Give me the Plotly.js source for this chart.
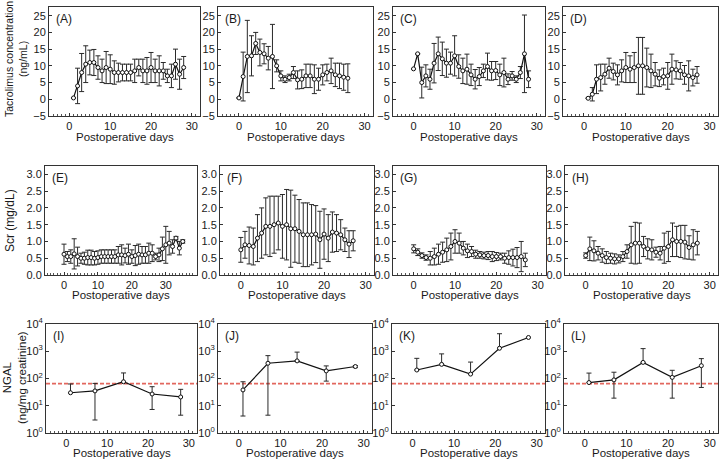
<!DOCTYPE html>
<html>
<head>
<meta charset="utf-8">
<script src="https://cdn.plot.ly/plotly-3.0.1.min.js"></script>
<style>
html, body { margin: 0; padding: 0; background: #fff; }
#myDiv { width: 721px; height: 460px; }
</style>
</head>
<body>
<div id="myDiv"></div>
<script>
// Tacrolimus concentration (ng/mL), mean and SD per postoperative day
var aDays = [1,2,3,4,5,6,7,8,9,10,11,12,13,14,15,16,17,18,19,20,21,22,23,24,25,26,27,28];
var aMean = [0.4,4,8,10.5,11,11,9.5,8.5,9.5,9,8,8,8,8,8,8.5,9.5,8.5,8.5,9.5,8.5,8.5,8.5,7,7,10.5,7.5,9.5];
var aSd = [null,5.3,5.7,5.5,3.7,3.9,3.5,3.5,4.8,4.3,3.5,2.8,2.5,2.5,2.5,3.5,2.5,3.5,4,4.5,3.5,4.5,2.5,2,3.5,4.5,4.5,3.3];

var bDays = [0,1,2,3,4,5,6,7,8,9,10,11,12,13,14,15,16,17,18,19,20,21,22,23,24,25,26];
var bMean = [0.4,6.8,12.8,13,16.7,14,13.6,12.3,12.8,10,7,6,6.5,8,5.8,6,7,7,6,6,7.3,8,8.5,7.3,7,6.6,6.3];
var bSd = [null,7.3,10.8,6,3.3,4,3,3.5,9.6,1.8,1.5,1,1,1.8,2.7,2.8,3.5,3.5,4.3,3.3,3,2.5,3.8,3.5,3.8,3.9,4.3];

var cDays = [0,1,2,3,4,5,6,7,8,9,10,11,12,13,14,15,16,17,18,19,20,21,22,23,24,25,26,27,28];
var cMean = [9.1,13.6,5,7,6,10.8,13.6,12.1,10.8,10.8,13,9.8,8.5,9,7.3,6,6.8,8.5,9.8,8.5,8.6,7.3,8,6,7,6,8,13.6,6];
var cSd = [null,null,4.6,3.3,3,5.9,5,5,4.2,3.3,6,3.5,3.8,4.5,3.2,2.9,2.7,2,4,2.8,2.7,3.2,4.3,1.6,1.3,1,1.8,11.6,2.5];

var dDays = [1,2,3,4,5,6,7,8,9,10,11,12,13,14,15,16,17,18,19,20,21,22,23,24,25,26,27];
var dMean = [0.3,1.5,6,6.5,7.5,9.3,8.3,7.3,8.5,9.5,9,9.5,10,10,9.5,8.5,7.5,6.3,6.8,7,9,8.8,8.5,7.3,7,6.5,7.3];
var dSd = [null,2,4.3,4,3,3,2.5,3,3.3,4.5,4,4.5,8.5,8.5,5.8,5,3.5,2.5,2.5,4,4.5,2.7,2.5,2.8,4.5,2.5,2.5];

// Scr (mg/dL)
var eDays = [0,1,2,3,4,5,6,7,8,9,10,11,12,13,14,15,16,17,18,19,20,21,22,23,24,25,26,27,28,29,30,31,32,33,34,35];
var eMean = [0.62,0.55,0.55,0.63,0.55,0.5,0.5,0.52,0.52,0.5,0.52,0.55,0.55,0.55,0.55,0.55,0.6,0.6,0.58,0.62,0.55,0.58,0.62,0.6,0.6,0.65,0.65,0.55,0.6,0.78,0.9,0.95,0.85,1.1,0.8,1.0];
var eSd = [0.3,0.15,0.2,0.45,0.28,0.15,0.18,0.22,0.22,0.2,0.2,0.2,0.2,0.2,0.2,0.2,0.25,0.3,0.22,0.3,0.2,0.3,0.3,0.25,0.25,0.3,0.25,0.1,0.2,0.35,0.55,0.35,0.2,0.05,0.2,0.05];

var fDays = [0,1,2,3,4,5,6,7,8,9,10,11,12,13,14,15,16,17,18,19,20,21,22,23,24,25,26,27];
var fMean = [0.75,0.9,0.88,0.85,1.1,1.25,1.45,1.45,1.5,1.55,1.45,1.5,1.38,1.38,1.3,1.2,1.2,1.2,1.22,1.05,1.22,1.1,1.28,1.25,1.2,1.05,0.92,1.02];
var fSd = [0.37,0.4,0.55,0.55,0.7,0.75,0.85,0.9,0.85,0.8,0.95,1.05,1.15,1.0,0.95,0.95,0.95,0.9,0.85,0.85,0.75,0.7,0.6,0.55,0.45,0.35,0.4,0.3];

var gDays = [0,1,2,3,4,5,6,7,8,9,10,11,12,13,14,15,16,17,18,19,20,21,22,23,24,25,26,27];
var gMean = [0.78,0.68,0.58,0.52,0.5,0.55,0.62,0.68,0.75,0.85,1.0,0.95,0.8,0.72,0.7,0.62,0.6,0.58,0.58,0.55,0.55,0.55,0.5,0.52,0.52,0.52,0.55,0.45];
var gSd = [0.12,0.1,0.08,0.08,0.2,0.25,0.3,0.3,0.35,0.4,0.35,0.3,0.2,0.2,0.15,0.12,0.1,0.1,0.12,0.15,0.12,0.1,0.15,0.2,0.25,0.3,0.45,0.2];

var hDays = [0,1,2,3,4,5,6,7,8,9,10,11,12,13,14,15,16,17,18,19,20,21,22,23,24,25,26,27];
var hMean = [0.58,0.78,0.72,0.65,0.58,0.52,0.5,0.48,0.48,0.55,0.7,0.9,0.95,0.95,0.85,0.78,0.75,0.68,0.65,0.8,0.85,1.05,1.0,1.0,0.98,0.82,0.9,0.95];
var hSd = [0.08,0.35,0.3,0.2,0.2,0.18,0.15,0.15,0.12,0.15,0.2,0.55,0.62,0.6,0.3,0.3,0.3,0.15,0.2,0.45,0.45,0.5,0.45,0.48,0.5,0.35,0.45,0.35];

// NGAL (ng/mg creatinine), weekly: mean, upper and lower bar ends
var ngalDays = [1,7,14,21,28];
var iMean = [30,35,76,27,21];
var iHi = [63,66,160,50,40];
var iLo = [null,3,null,7.3,4.5];
var jMean = [38,363,443,190,275];
var jHi = [76,690,930,290,297];
var jLo = [4.2,4.5,null,80,250];
var kMean = [205,330,145,1290,3200];
var kHi = [550,800,400,4400,null];
var kLo = [null,null,null,null,null];
var lMean = [71,89,390,110,295];
var lHi = [158,170,1250,200,537];
var lLo = [null,19,null,19,47];
var ngalCutoff = 65;

var panelNames = ['(A)','(B)','(C)','(D)','(E)','(F)','(G)','(H)','(I)','(J)','(K)','(L)'];
var logTicks = [0,1,2,3,4];
var logTickText = ['10<sup>0</sup>','10<sup>1</sup>','10<sup>2</sup>','10<sup>3</sup>','10<sup>4</sup>'];

var W = 721, H = 460;
// plot boxes in pixels: [left, right, top, bottom]
var boxes = [
    [49,200,7,116],[218,373,7,116],[393,545,7,116],[563,718,7,116],
    [45,197,166,275],[220,374,166,275],[393,546,166,275],[565,718,166,275],
    [46,197,324,433],[218,372,324,433],[392,545,324,433],[564,718,324,433]
];
var xTitleY = [137, 295, 453];

var FONT = 'Arial, "Liberation Sans", sans-serif';
var data = [];
var layout = {
    width: W, height: H,
    margin: {l: 0, r: 0, t: 0, b: 0},
    paper_bgcolor: '#fff', plot_bgcolor: '#fff',
    showlegend: false,
    font: {family: FONT, size: 11, color: '#1a1a1a'},
    annotations: [],
    shapes: []
};

function sdTrace(days, mean, sd, n) {
    return {
        x: days, y: mean, type: 'scatter', mode: 'lines+markers',
        xaxis: 'x' + n, yaxis: 'y' + n,
        line: {color: '#111', width: 1.2},
        marker: {symbol: 'circle', size: 4, color: '#fff', line: {color: '#111', width: 1}},
        error_y: {type: 'data', array: sd, symmetric: true, color: '#2a2a2a', thickness: 1, width: 2.5}
    };
}

function rangeTrace(days, mean, hi, lo, n) {
    var up = [], down = [];
    for (var i = 0; i < mean.length; i++) {
        up.push(hi[i] == null ? 0 : hi[i] - mean[i]);
        down.push(lo[i] == null ? 0 : mean[i] - lo[i]);
    }
    return {
        x: days, y: mean, type: 'scatter', mode: 'lines+markers',
        xaxis: 'x' + n, yaxis: 'y' + n,
        line: {color: '#111', width: 1.2},
        marker: {symbol: 'circle', size: 4, color: '#fff', line: {color: '#111', width: 1}},
        error_y: {type: 'data', array: up, arrayminus: down, symmetric: false, color: '#2a2a2a', thickness: 1, width: 2.5}
    };
}

data.push(sdTrace(aDays, aMean, aSd, 1));
data.push(sdTrace(bDays, bMean, bSd, 2));
data.push(sdTrace(cDays, cMean, cSd, 3));
data.push(sdTrace(dDays, dMean, dSd, 4));
data.push(sdTrace(eDays, eMean, eSd, 5));
data.push(sdTrace(fDays, fMean, fSd, 6));
data.push(sdTrace(gDays, gMean, gSd, 7));
data.push(sdTrace(hDays, hMean, hSd, 8));
data.push(rangeTrace(ngalDays, iMean, iHi, iLo, 9));
data.push(rangeTrace(ngalDays, jMean, jHi, jLo, 10));
data.push(rangeTrace(ngalDays, kMean, kHi, kLo, 11));
data.push(rangeTrace(ngalDays, lMean, lHi, lLo, 12));

for (var p = 0; p < 12; p++) {
    var n = p + 1;
    var b = boxes[p];
    var row = Math.floor(p / 4);
    var xa = {
        domain: [b[0] / W, b[1] / W],
        anchor: 'y' + n,
        range: p === 4 ? [-5.6, 39.2] : [-5, 32],
        tickvals: [0, 10, 20, 30],
        ticks: 'inside', ticklen: 3, tickcolor: '#333',
        minor: {ticks: 'inside', ticklen: 2, dtick: 1, tickcolor: '#555'},
        showline: true, mirror: true, linecolor: '#333', linewidth: 1,
        showgrid: false, zeroline: false,
        tickfont: {size: 11}
    };
    var ya = {
        domain: [1 - b[3] / H, 1 - b[2] / H],
        anchor: 'x' + n,
        ticks: 'inside', ticklen: 3, tickcolor: '#333',
        showline: true, mirror: true, linecolor: '#333', linewidth: 1,
        showgrid: false, zeroline: false,
        tickfont: {size: 11}
    };
    if (row === 0) {
        ya.range = [-5, 27.6];
        ya.tickvals = [-5, 0, 5, 10, 15, 20, 25];
    } else if (row === 1) {
        ya.range = [0, 3.25];
        ya.tickvals = [0, 0.5, 1, 1.5, 2, 2.5, 3];
        ya.tickformat = '.1f';
    } else {
        ya.type = 'log';
        ya.range = [0, 4];
        ya.tickvals = logTicks.map(function (e) { return Math.pow(10, e); });
        ya.ticktext = logTickText;
        layout.shapes.push({
            type: 'line', xref: 'x' + n + ' domain', x0: 0, x1: 1,
            yref: 'y' + n, y0: ngalCutoff, y1: ngalCutoff,
            line: {color: '#e2675e', width: 1.8, dash: '4px,2px'}, layer: 'below'
        });
    }
    layout['xaxis' + (n === 1 ? '' : n)] = xa;
    layout['yaxis' + (n === 1 ? '' : n)] = ya;
    layout.annotations.push({
        text: panelNames[p], xref: 'x' + n + ' domain', yref: 'y' + n + ' domain',
        x: 0.03, y: 0.97, xanchor: 'left', yanchor: 'top', showarrow: false,
        font: {size: 12}
    });
    layout.annotations.push({
        text: 'Postoperative days', xref: 'x' + n + ' domain', yref: 'paper',
        x: 0.5, y: 1 - xTitleY[row] / H, xanchor: 'center', yanchor: 'middle',
        showarrow: false, font: {size: 11.5}
    });
}

// y axis titles, one per row
var yTitles = [
    {text: 'Tacrolimus concentration<br>(ng/mL)', x: 16, y: 59, size: 10.5},
    {text: 'Scr (mg/dL)', x: 10, y: 221, size: 12},
    {text: 'NGAL<br>(ng/mg creatinine)', x: 14, y: 378, size: 11.5}
];
yTitles.forEach(function (t) {
    layout.annotations.push({
        text: t.text, xref: 'paper', yref: 'paper', x: t.x / W, y: 1 - t.y / H,
        xanchor: 'center', yanchor: 'middle', textangle: -90, showarrow: false,
        font: {size: t.size}
    });
});

Plotly.newPlot('myDiv', data, layout, {displayModeBar: false, staticPlot: true});
</script>
</body>
</html>
